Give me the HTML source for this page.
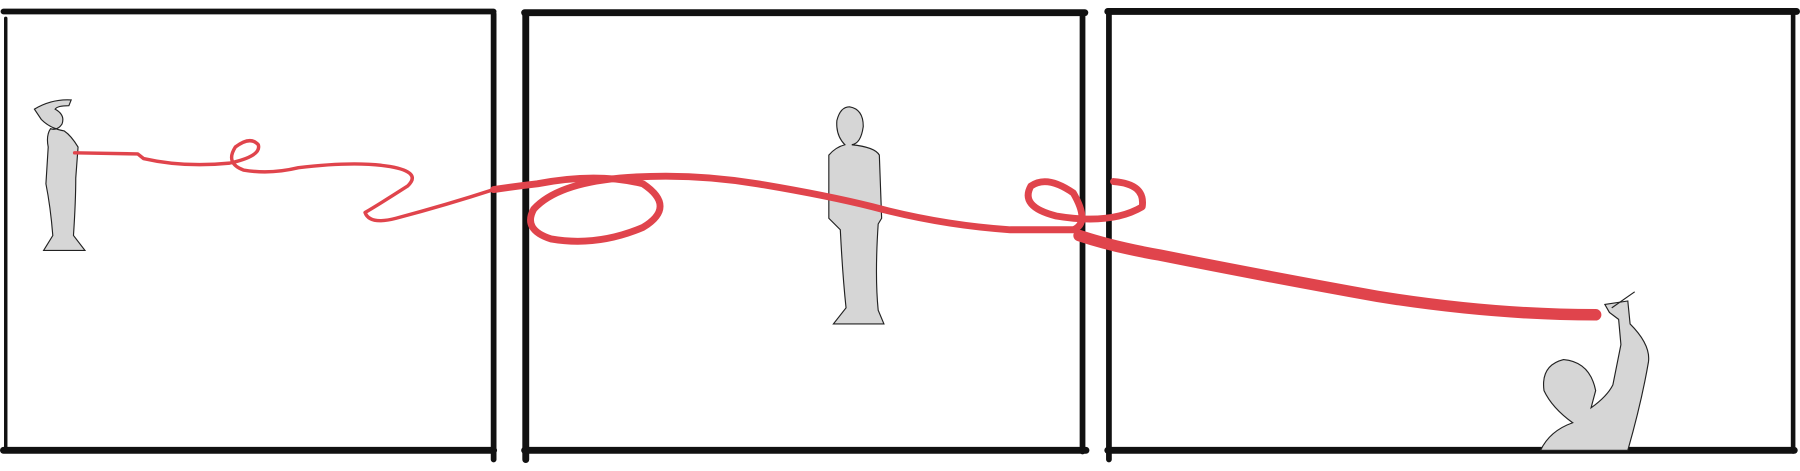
<!DOCTYPE html>
<html><head><meta charset="utf-8"><style>html,body{margin:0;padding:0;background:#fff}svg{display:block}</style></head>
<body>
<svg width="1800" height="471" viewBox="0 0 1568 410" preserveAspectRatio="none">
<rect width="1568" height="410" fill="#fff"/>
<g fill="none" stroke="#111" stroke-linecap="round">
 <g>
  <line x1="3" y1="10" x2="430" y2="10" stroke-width="5"/>
  <line x1="5" y1="16" x2="5" y2="393" stroke-width="3"/>
  <line x1="3" y1="392" x2="430" y2="392" stroke-width="6"/>
  <line x1="430" y1="12" x2="430" y2="400" stroke-width="5"/>
 </g>
 <g>
  <line x1="457" y1="11" x2="945" y2="11" stroke-width="6"/>
  <line x1="458" y1="12" x2="458" y2="400" stroke-width="6"/>
  <line x1="457" y1="392" x2="946" y2="392" stroke-width="6"/>
  <line x1="943" y1="12" x2="943" y2="393" stroke-width="5"/>
 </g>
 <g>
  <line x1="965" y1="10" x2="1565" y2="10" stroke-width="6"/>
  <line x1="966" y1="10" x2="966" y2="400" stroke-width="5"/>
  <line x1="965" y1="392" x2="1563" y2="392" stroke-width="6"/>
  <line x1="1562" y1="10" x2="1562" y2="393" stroke-width="4"/>
 </g>
</g>
<g fill="#d6d6d6" stroke="#222" stroke-width="1">
 <path d="M30,95 Q45,86 62,87 L60,92 Q50,92 48,95 Q57,100 54,108 Q50,114 44,112 Q40,118 42,128 L40,160 Q44,180 46,205 L38,218 L74,218 L64,205 Q66,175 66,155 L68,128 Q62,118 56,114 Q44,112 36,104 Z"/>
 <path d="M740,93 Q752,95 752,110 Q750,125 742,126 Q762,128 766,135 L768,190 L765,195 Q762,240 765,270 L770,282 L726,282 L737,268 Q734,240 732,200 L722,190 L722,135 Q728,128 736,126 Q728,118 729,105 Q732,93 740,93 Z"/>
 <path d="M1342,392 Q1350,375 1370,368 Q1352,355 1345,340 Q1342,318 1362,313 Q1385,315 1390,340 L1386,355 Q1400,345 1405,335 L1412,300 L1410,278 L1402,272 L1398,265 L1418,262 L1420,282 Q1438,300 1436,315 Q1430,350 1418,392 Z"/>
 <line x1="1404" y1="268" x2="1424" y2="254"/>
</g>
<g fill="none" stroke="#e0444c" stroke-linecap="round" stroke-linejoin="round">
 <path stroke-width="3" d="M65,133 L120,134 L125,138 Q160,146 200,142 Q228,136 225,126 Q218,118 205,128 Q196,142 212,148 Q235,152 260,146 Q310,140 340,145 Q368,150 355,162 Q330,178 318,185 Q322,196 345,190 Q390,178 430,165"/>
 <path stroke-width="6" d="M430,165 Q450,162 468,160 Q520,150 560,160 Q590,180 560,198 Q520,215 480,208 Q455,200 465,182 Q485,160 540,155 Q600,150 660,160 Q720,170 760,180 Q820,196 880,200 L935,200 Q950,194 935,168 Q912,152 898,162 Q888,180 920,188 Q968,196 995,180 Q998,160 970,158"/>
 <path stroke-width="10" d="M940,205 Q970,215 1010,222 Q1100,240 1200,258 Q1300,274 1390,274"/>
</g>
</svg>
</body></html>
